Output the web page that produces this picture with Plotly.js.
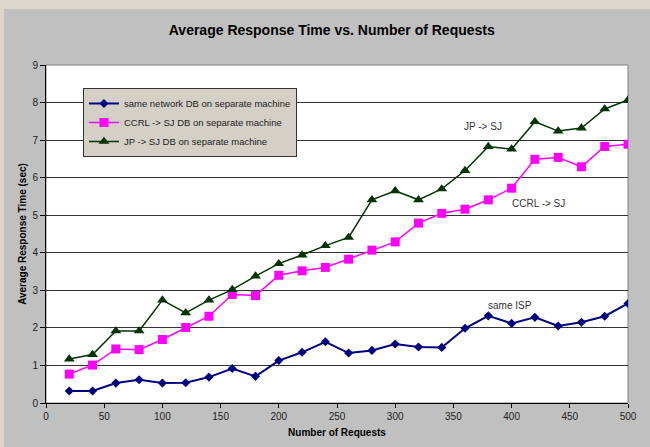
<!DOCTYPE html>
<html>
<head>
<meta charset="utf-8">
<script src="https://cdn.plot.ly/plotly-3.0.1.min.js"></script>
<style>
  html, body { margin: 0; padding: 0; width: 650px; height: 447px; overflow: hidden; background: #DCD6CE; }
  #chart { position: absolute; left: 4px; top: 9px; width: 646px; height: 438px; }
</style>
</head>
<body>
<div id="chart"></div>
<script>
const requests = [20, 40, 60, 80, 100, 120, 140, 160, 180, 200, 220, 240, 260, 280, 300, 320, 340, 360, 380, 400, 420, 440, 460, 480, 500];
const sameNetwork = [0.32, 0.32, 0.53, 0.62, 0.53, 0.54, 0.69, 0.92, 0.71, 1.13, 1.35, 1.63, 1.33, 1.40, 1.57, 1.49, 1.48, 1.99, 2.32, 2.12, 2.28, 2.05, 2.15, 2.31, 2.65];
const ccrlSJ = [0.77, 1.01, 1.44, 1.42, 1.69, 2.01, 2.31, 2.89, 2.86, 3.40, 3.52, 3.61, 3.83, 4.07, 4.29, 4.79, 5.05, 5.16, 5.41, 5.72, 6.49, 6.54, 6.29, 6.83, 6.89];
const jpSJ = [1.17, 1.29, 1.92, 1.92, 2.74, 2.40, 2.74, 3.02, 3.38, 3.71, 3.94, 4.19, 4.41, 5.41, 5.65, 5.41, 5.70, 6.19, 6.83, 6.76, 7.49, 7.24, 7.32, 7.83, 8.07];
const seriesNames = ["same network DB on separate machine", "CCRL -> SJ DB on separate machine", "JP -> SJ DB on separate machine"];
const labelTexts = ["JP -> SJ", "CCRL -> SJ", "same ISP"];
const labelX = [375, 423, 399];
const labelY = [7.36, 5.3, 2.6];

const font = "Liberation Sans, Arial, sans-serif";

const traces = [
  { x: requests, y: sameNetwork, name: seriesNames[0], mode: "lines+markers",
    line: { color: "#000080", width: 2 },
    marker: { symbol: "diamond", size: 7, color: "#000080" } },
  { x: requests, y: ccrlSJ, name: seriesNames[1], mode: "lines+markers",
    line: { color: "#FF00FF", width: 1.5 },
    marker: { symbol: "square", size: 9, color: "#FF00FF" } },
  { x: requests, y: jpSJ, name: seriesNames[2], mode: "lines+markers",
    line: { color: "#003300", width: 1.5 },
    marker: { symbol: "triangle-up", size: 9.5, color: "#003300" } }
];

const annotations = labelTexts.map((t, i) => ({
  x: labelX[i], y: labelY[i], xref: "x", yref: "y", text: t, showarrow: false,
  font: { family: font, size: 10, color: "#333333" }
}));

const layout = {
  width: 646, height: 438,
  paper_bgcolor: "#C0C0C0",
  plot_bgcolor: "#FFFFFF",
  margin: { l: 42, r: 21.5, t: 56, b: 44 },
  font: { family: font, size: 10, color: "#222222" },
  title: { text: "<b>Average Response Time vs. Number of Requests</b>",
    font: { family: font, size: 14, color: "#000000" },
    x: 0.491, xref: "paper", xanchor: "center", y: 0.952, yref: "container", yanchor: "middle" },
  xaxis: {
    range: [0, 500], dtick: 50, tick0: 0,
    showgrid: false, zeroline: false,
    showline: true, linecolor: "#000000", linewidth: 1,
    ticks: "outside", ticklen: 4, tickcolor: "#000000",
    tickfont: { family: font, size: 10, color: "#222222" },
    title: { text: "<b>Number of Requests</b>", font: { family: font, size: 10, color: "#000000" }, standoff: 7 }
  },
  yaxis: {
    range: [0, 9], dtick: 1, tick0: 0,
    showgrid: true, gridcolor: "#333333", gridwidth: 1,
    zeroline: false,
    showline: true, linecolor: "#000000", linewidth: 1,
    ticks: "outside", ticklen: 5, tickcolor: "#000000",
    tickfont: { family: font, size: 10, color: "#222222" },
    title: { text: "<b>Average Response Time (sec)</b>", font: { family: font, size: 10, color: "#000000" }, standoff: 3 }
  },
  legend: {
    x: 0.0635, y: 0.932, xanchor: "left", yanchor: "top",
    bgcolor: "#D4D0C8", bordercolor: "#333333", borderwidth: 1,
    font: { family: font, size: 9.5, color: "#222222" },
    tracegroupgap: 0
  },
  showlegend: true,
  annotations: annotations,
  shapes: [
    { type: "rect", xref: "paper", yref: "paper", x0: 0, x1: 1, y0: 0, y1: 1,
      line: { color: "#808080", width: 1 }, layer: "below" }
  ]
};

Plotly.newPlot("chart", traces, layout, { staticPlot: true, displayModeBar: false });
</script>
</body>
</html>
